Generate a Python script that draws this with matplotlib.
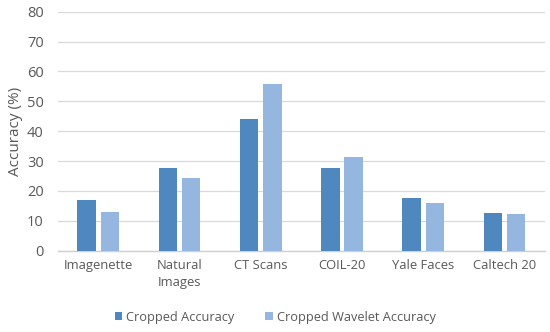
import matplotlib
matplotlib.use("Agg")
import matplotlib.pyplot as plt
import numpy as np

categories = ["Imagenette", "Natural\nImages", "CT Scans", "COIL-20", "Yale Faces", "Caltech 20"]
cropped = [17.0, 27.6, 43.9, 27.7, 17.6, 12.6]
cropped_wavelet = [13.0, 24.4, 55.9, 31.4, 15.9, 12.4]
series_names = ["Cropped Accuracy", "Cropped Wavelet Accuracy"]
yticks = [0, 10, 20, 30, 40, 50, 60, 70, 80]

plt.rcParams['font.family'] = ['Open Sans', 'DejaVu Sans']
fig = plt.figure(figsize=(5.5, 3.32), dpi=100)
ax = fig.add_axes([0.105, 0.245, 0.886, 0.72])

x = np.arange(len(categories))
w = 0.229
off = 0.143
c1 = "#4F87BF"
c2 = "#95B7DF"
ax.bar(x - off, cropped, w, color=c1, label=series_names[0], zorder=3)
ax.bar(x + off, cropped_wavelet, w, color=c2, label=series_names[1], zorder=3)

tc = "#595959"
ax.set_xlim(-0.5, len(categories) - 0.5)
ax.set_ylim(0, 80)
ax.set_yticks(yticks)
ax.set_xticks(x)
ax.set_xticklabels(categories, fontsize=9.4, color=tc, linespacing=1.45)
ax.tick_params(axis='y', labelsize=10.5, labelcolor=tc, length=0, pad=10)
ax.tick_params(axis='x', length=0, pad=6)
ax.grid(axis='y', color="#D9D9D9", linewidth=0.9, zorder=0)
for s in ['top', 'right', 'left']:
    ax.spines[s].set_visible(False)
ax.spines['bottom'].set_color("#D0D0D0")
ax.spines['bottom'].set_linewidth(1.0)
ax.set_ylabel("Accuracy (%)", fontsize=11, color=tc, labelpad=3)

fig.legend(loc='lower center', bbox_to_anchor=(0.5, -0.01), ncol=2, frameon=False,
           fontsize=9.2, handlelength=0.6, handleheight=0.6, columnspacing=2.4,
           handletextpad=0.3, labelcolor=tc)

fig.savefig("out.png", dpi=100)
